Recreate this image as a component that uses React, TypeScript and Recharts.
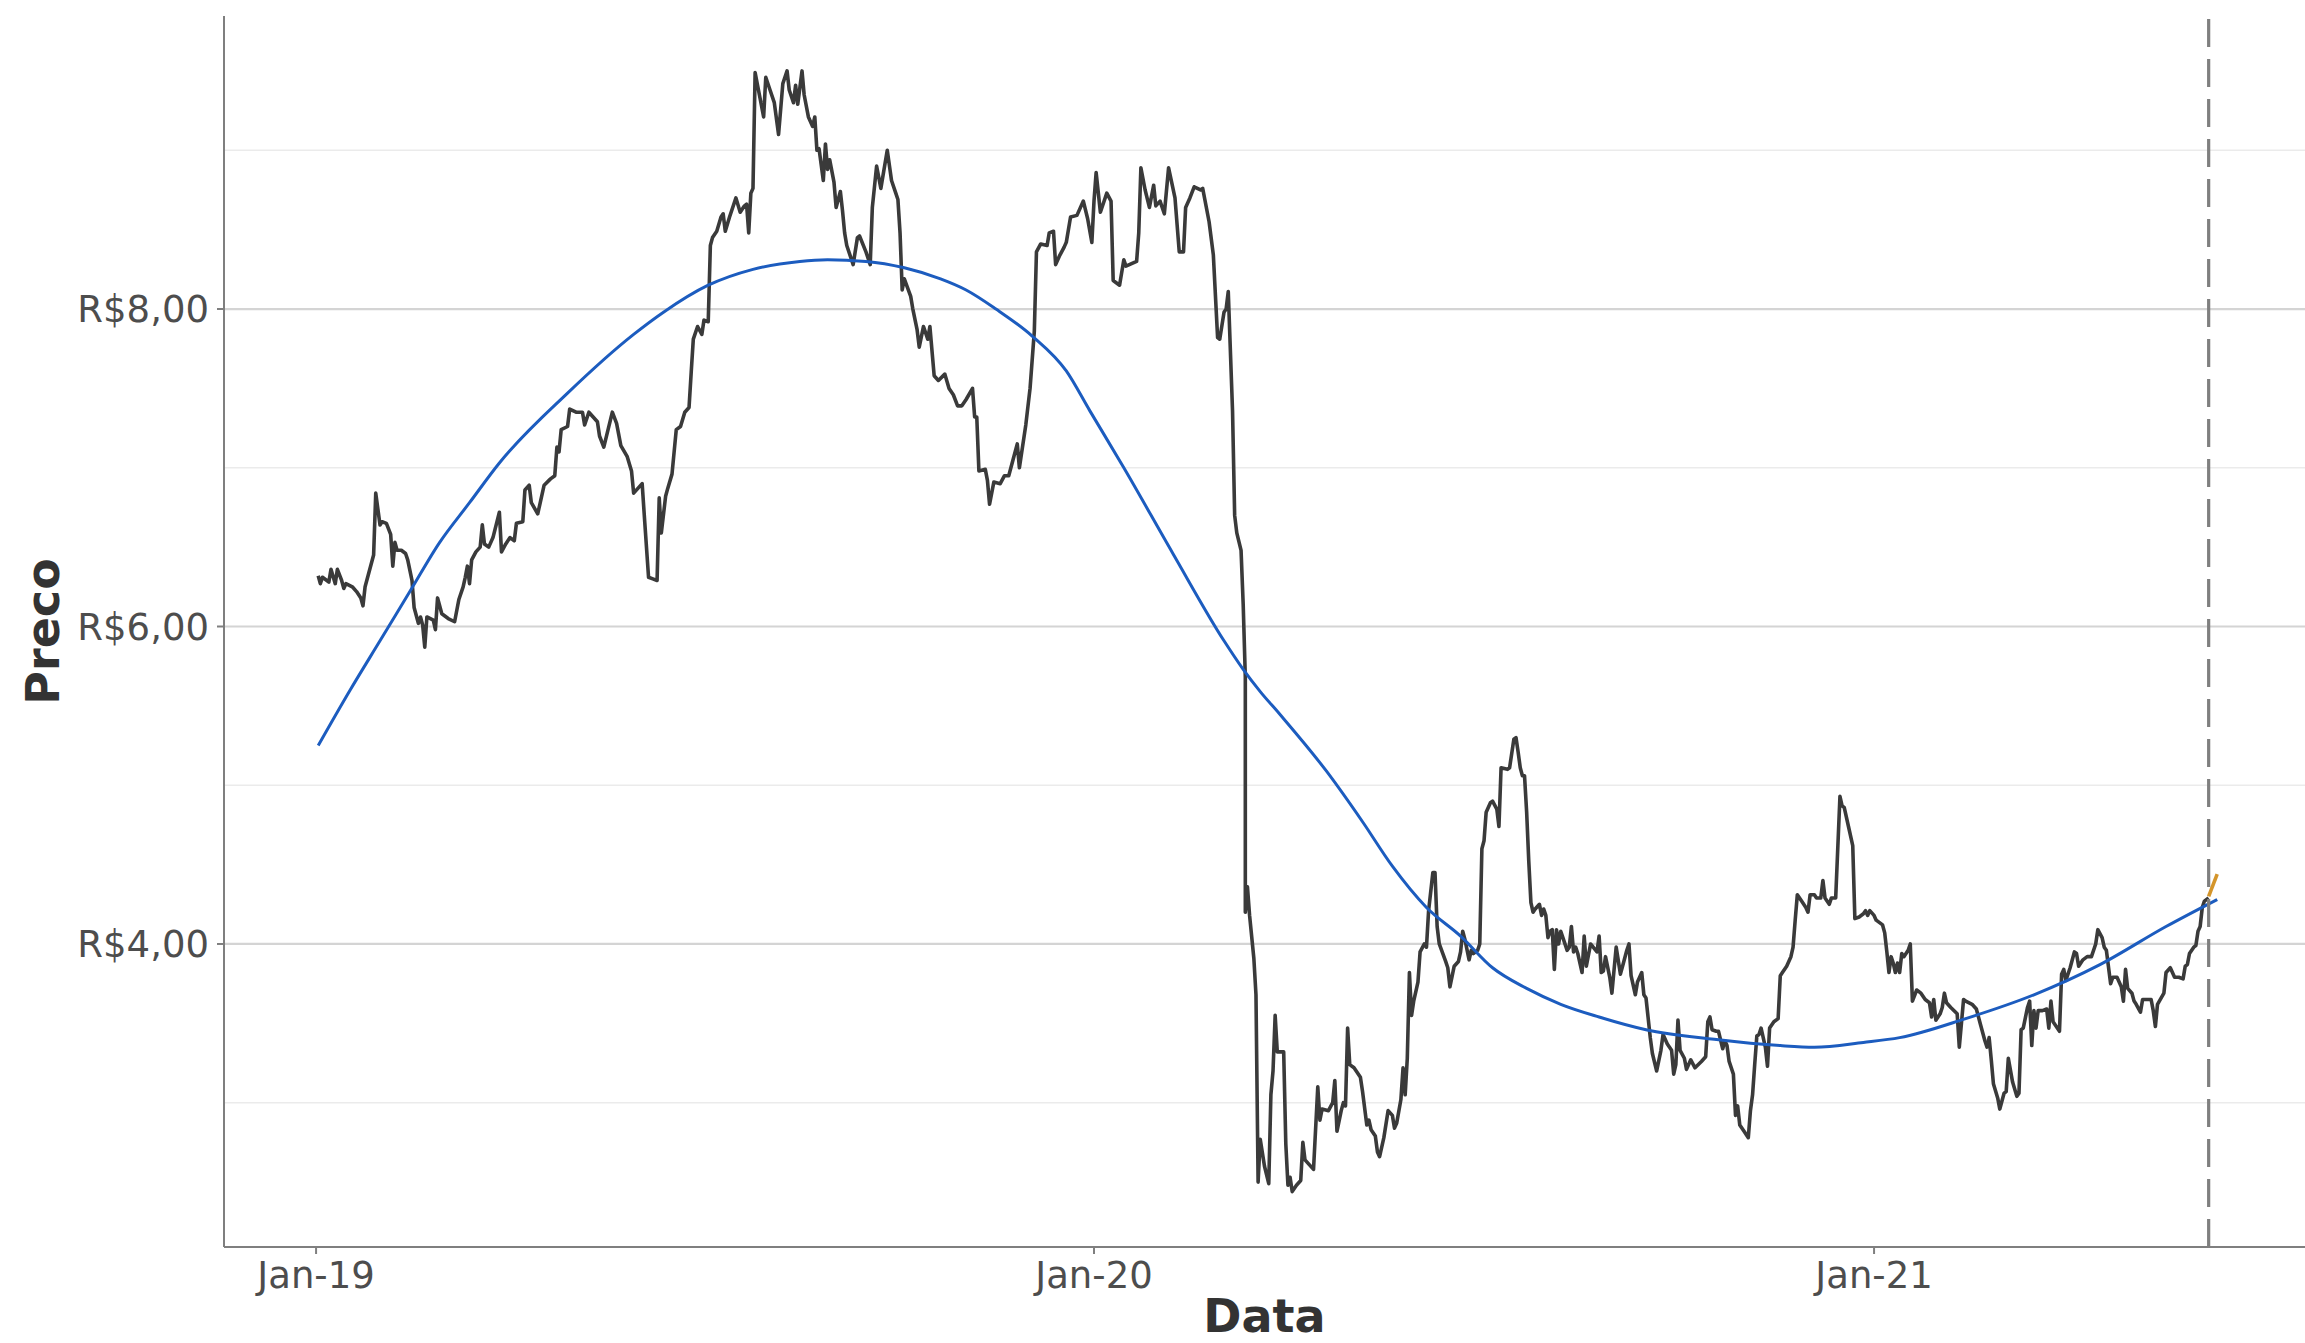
import React from 'react';
import { LineChart, Line, XAxis, YAxis, ReferenceLine, CartesianGrid, Label } from 'recharts';

// Days counted from 2019-01-01 (day 0 = Jan 1, 2019)
const priceDays = [
  1, 2, 3, 6, 7, 9, 10, 12, 13, 14, 17, 19, 21, 22, 23, 27, 28, 30, 31, 33, 35, 36, 37, 38, 40, 42, 43, 45, 46, 48,
  49, 50, 51, 52, 55, 56, 57, 59, 62, 65, 67, 69, 70, 71, 72, 73, 75, 77, 78, 79, 81, 83, 86, 87, 89, 91, 93, 94, 97, 98,
  100, 101, 104, 105, 107, 110, 112, 113, 114, 115, 118, 119, 122, 125, 126, 128, 130, 132, 133, 135, 137, 139, 141, 143, 146, 148, 149, 151, 153, 154,
  156, 158, 160, 161, 162, 164, 165, 167, 169, 171, 173, 175, 176, 177, 179, 181, 182, 184, 185, 186, 188, 190, 191, 192, 194, 197, 199, 201, 202, 203,
  204, 205, 206, 208, 210, 211, 213, 215, 217, 219, 221, 222, 224, 225, 226, 228, 229, 231, 233, 234, 235, 236, 238, 239, 240, 241, 243, 244, 246, 247,
  248, 249, 252, 254, 255, 258, 260, 261, 263, 265, 268, 270, 272, 273, 274, 275, 276, 279, 280, 282, 283, 285, 287, 288, 290, 292, 295, 297, 299, 301,
  303, 305, 308, 309, 310, 311, 314, 315, 316, 318, 321, 323, 325, 329, 330, 333, 335, 337, 338, 340, 343, 344, 346, 347, 349, 351, 352, 354, 357, 360,
  362, 364, 365, 366, 368, 371, 373, 374, 377, 379, 380, 385, 386, 387, 389, 391, 393, 394, 396, 398, 400, 403, 405, 407, 408, 410, 412, 415, 416, 419,
  421, 423, 424, 426, 427, 428, 430, 431, 432, 434, 435, 436, 436, 437, 438, 440, 441, 442, 443, 445, 447, 448, 449, 450, 451, 454, 455, 456, 457, 458,
  460, 462, 463, 464, 466, 468, 470, 471, 472, 475, 477, 478, 479, 481, 482, 483, 484, 485, 487, 490, 491, 493, 494, 495, 497, 498, 499, 501, 503, 505,
  506, 507, 509, 510, 511, 512, 513, 514, 515, 517, 518, 520, 521, 522, 524, 525, 526, 527, 530, 531, 532, 534, 536, 537, 538, 539, 541, 542, 543, 545,
  546, 547, 548, 549, 551, 552, 554, 555, 556, 559, 560, 562, 563, 564, 565, 566, 567, 568, 569, 570, 571, 572, 574, 575, 576, 577, 578, 579, 580, 581,
  582, 583, 584, 585, 587, 588, 589, 590, 591, 592, 594, 595, 596, 598, 601, 602, 603, 604, 605, 607, 608, 610, 612, 613, 615, 616, 617, 619, 620, 622,
  623, 624, 626, 627, 629, 631, 632, 634, 636, 637, 638, 639, 640, 642, 643, 645, 647, 650, 652, 653, 654, 655, 657, 658, 660, 661, 662, 663, 665, 666,
  667, 668, 670, 672, 673, 674, 675, 676, 677, 678, 680, 681, 682, 684, 686, 687, 688, 690, 692, 693, 694, 695, 697, 699, 700, 701, 703, 704, 706, 707,
  708, 710, 711, 713, 715, 716, 717, 719, 721, 722, 724, 726, 727, 728, 729, 731, 732, 735, 736, 737, 738, 739, 740, 741, 742, 743, 744, 745, 747, 748,
  749, 751, 753, 755, 757, 758, 759, 760, 762, 763, 764, 765, 767, 770, 771, 773, 774, 777, 779, 781, 783, 784, 785, 786, 787, 789, 790, 792, 793, 794,
  796, 798, 799, 800, 801, 803, 804, 805, 806, 807, 808, 810, 812, 813, 814, 815, 818, 819, 820, 821, 823, 825, 826, 827, 829, 831, 833, 835, 836, 838,
  839, 840, 842, 843, 845, 847, 848, 849, 850, 852, 853, 854, 856, 857, 859, 861, 862, 863, 864, 867, 868, 870, 872, 874, 876, 877, 878, 879, 881, 882,
  883, 884, 885, 886, 888,
];

const prices = [
  6.32, 6.27, 6.31, 6.28, 6.36, 6.27, 6.36, 6.29, 6.24, 6.27, 6.25, 6.22, 6.18, 6.13, 6.25, 6.45, 6.84, 6.64, 6.66, 6.65, 6.58, 6.38, 6.53, 6.48, 6.48, 6.46, 6.42, 6.29, 6.12, 6.02,
  6.06, 6.01, 5.87, 6.06, 6.04, 5.98, 6.18, 6.08, 6.05, 6.03, 6.17, 6.25, 6.31, 6.38, 6.27, 6.42, 6.47, 6.50, 6.64, 6.52, 6.50, 6.56, 6.72, 6.47, 6.52, 6.56, 6.54, 6.65, 6.66, 6.86,
  6.89, 6.78, 6.71, 6.77, 6.89, 6.93, 6.95, 7.13, 7.10, 7.24, 7.26, 7.37, 7.35, 7.35, 7.27, 7.35, 7.32, 7.29, 7.20, 7.13, 7.24, 7.35, 7.28, 7.14, 7.07, 6.98, 6.84, 6.87, 6.90, 6.70,
  6.31, 6.30, 6.29, 6.81, 6.59, 6.82, 6.87, 6.96, 7.24, 7.26, 7.35, 7.38, 7.60, 7.81, 7.89, 7.84, 7.93, 7.92, 8.40, 8.45, 8.49, 8.58, 8.60, 8.49, 8.58, 8.70, 8.61, 8.65, 8.66, 8.48,
  8.73, 8.76, 9.49, 9.35, 9.21, 9.46, 9.38, 9.30, 9.10, 9.42, 9.50, 9.38, 9.30, 9.41, 9.29, 9.50, 9.35, 9.21, 9.15, 9.21, 9.00, 9.01, 8.81, 9.04, 8.88, 8.94, 8.80, 8.64, 8.74, 8.62,
  8.48, 8.40, 8.28, 8.45, 8.46, 8.36, 8.28, 8.64, 8.90, 8.76, 9.00, 8.81, 8.73, 8.69, 8.48, 8.12, 8.19, 8.08, 8.00, 7.87, 7.76, 7.89, 7.81, 7.89, 7.58, 7.55, 7.59, 7.50, 7.46, 7.39,
  7.39, 7.43, 7.50, 7.32, 7.32, 6.98, 6.99, 6.92, 6.77, 6.91, 6.90, 6.95, 6.95, 7.15, 7.00, 7.27, 7.50, 7.86, 8.36, 8.41, 8.40, 8.48, 8.49, 8.28, 8.34, 8.39, 8.42, 8.58, 8.59, 8.68,
  8.57, 8.42, 8.68, 8.86, 8.61, 8.73, 8.68, 8.18, 8.15, 8.31, 8.27, 8.30, 8.48, 8.89, 8.75, 8.64, 8.78, 8.65, 8.68, 8.60, 8.89, 8.70, 8.36, 8.36, 8.64, 8.70, 8.77, 8.75, 8.76, 8.55,
  8.34, 7.82, 7.81, 7.98, 8.00, 8.11, 7.36, 6.70, 6.59, 6.48, 6.14, 5.68, 4.20, 4.36, 4.18, 3.91, 3.68, 2.50, 2.77, 2.60, 2.49, 3.05, 3.20, 3.55, 3.32, 3.32, 2.74, 2.48, 2.53, 2.44,
  2.48, 2.51, 2.75, 2.64, 2.61, 2.58, 3.10, 2.89, 2.96, 2.95, 3.00, 3.14, 2.82, 2.95, 3.00, 2.98, 3.47, 3.24, 3.22, 3.16, 3.07, 2.86, 2.89, 2.83, 2.79, 2.69, 2.66, 2.78, 2.95, 2.92,
  2.84, 2.87, 3.02, 3.22, 3.05, 3.28, 3.82, 3.55, 3.64, 3.76, 3.95, 4.00, 3.98, 4.21, 4.45, 4.45, 4.11, 4.00, 3.89, 3.85, 3.73, 3.86, 3.89, 3.95, 4.08, 4.03, 3.90, 3.96, 3.94, 3.96,
  4.00, 4.60, 4.65, 4.83, 4.89, 4.90, 4.85, 4.74, 5.11, 5.10, 5.11, 5.29, 5.30, 5.21, 5.11, 5.06, 5.06, 4.83, 4.52, 4.26, 4.20, 4.22, 4.25, 4.18, 4.22, 4.18, 4.04, 4.08, 4.09, 3.84,
  4.09, 4.00, 4.08, 4.04, 3.96, 3.98, 4.11, 3.95, 3.98, 3.94, 3.82, 4.05, 3.86, 4.00, 3.95, 4.05, 3.82, 3.83, 3.92, 3.79, 3.69, 3.98, 3.81, 3.86, 3.96, 4.00, 3.80, 3.68, 3.76, 3.82,
  3.68, 3.66, 3.41, 3.31, 3.20, 3.33, 3.43, 3.37, 3.33, 3.18, 3.24, 3.52, 3.33, 3.28, 3.21, 3.27, 3.22, 3.26, 3.29, 3.51, 3.54, 3.46, 3.45, 3.45, 3.34, 3.39, 3.36, 3.26, 3.18, 2.92,
  2.98, 2.86, 2.82, 2.78, 2.95, 3.05, 3.24, 3.42, 3.43, 3.47, 3.35, 3.23, 3.47, 3.51, 3.53, 3.80, 3.82, 3.86, 3.92, 3.98, 4.15, 4.31, 4.27, 4.23, 4.20, 4.31, 4.31, 4.29, 4.29, 4.40,
  4.29, 4.25, 4.29, 4.29, 4.93, 4.87, 4.86, 4.74, 4.62, 4.16, 4.17, 4.19, 4.21, 4.18, 4.21, 4.18, 4.15, 4.12, 4.07, 3.95, 3.82, 3.92, 3.88, 3.82, 3.88, 3.82, 3.94, 3.92, 3.96, 4.00,
  3.64, 3.71, 3.69, 3.65, 3.63, 3.54, 3.65, 3.52, 3.56, 3.60, 3.69, 3.63, 3.60, 3.56, 3.35, 3.65, 3.64, 3.62, 3.59, 3.49, 3.39, 3.35, 3.41, 3.27, 3.12, 3.03, 2.96, 3.06, 3.07, 3.28,
  3.13, 3.04, 3.06, 3.46, 3.47, 3.60, 3.64, 3.36, 3.58, 3.47, 3.58, 3.58, 3.59, 3.47, 3.64, 3.51, 3.45, 3.81, 3.84, 3.77, 3.85, 3.95, 3.94, 3.86, 3.90, 3.92, 3.92, 4.00, 4.09, 4.04,
  3.98, 3.96, 3.75, 3.79, 3.79, 3.73, 3.64, 3.84, 3.72, 3.69, 3.64, 3.62, 3.57, 3.65, 3.65, 3.65, 3.58, 3.48, 3.62, 3.69, 3.82, 3.85, 3.79, 3.79, 3.78, 3.86, 3.87, 3.94, 3.98, 3.99,
  4.08, 4.11, 4.23, 4.27, 4.29,
];

// Smoothed trend (loess-like curve)
const trendDays = [1, 16, 30, 44, 58, 72, 86, 118, 149, 163, 184, 205, 227, 240, 258, 276, 293, 305, 319, 336, 352, 363, 379, 402, 426, 435, 443, 452, 474, 491, 505, 521, 537, 552, 568, 584, 602, 624, 656, 687, 703, 726, 743, 774, 806, 837, 868, 892];
const trendValues = [5.25, 5.6, 5.91, 6.22, 6.53, 6.78, 7.03, 7.47, 7.84, 7.98, 8.15, 8.25, 8.3, 8.31, 8.3, 8.26, 8.19, 8.12, 8.0, 7.83, 7.61, 7.36, 7.0, 6.46, 5.91, 5.73, 5.59, 5.45, 5.09, 4.77, 4.49, 4.23, 4.05, 3.85, 3.72, 3.62, 3.54, 3.46, 3.4, 3.36, 3.35, 3.38, 3.41, 3.53, 3.68, 3.87, 4.11, 4.28];

// Forecast segment
const forecastDays = [888, 892];
const forecastValues = [4.3, 4.44];

const lastObservedDay = 888;

const yearTickDays = [0, 365, 731];
const yearTickLabels = ['Jan-19', 'Jan-20', 'Jan-21'];
const majorBreaks = [4, 6, 8];
const minorBreaks = [3, 5, 7, 9];

const priceData = priceDays.map((d, i) => ({ day: d, price: prices[i] }));
const trendData = trendDays.map((d, i) => ({ day: d, trend: trendValues[i] }));
const forecastData = forecastDays.map((d, i) => ({ day: d, forecast: forecastValues[i] }));

const FONT = 'DejaVu Sans';
const AXIS_GREY = '#7f7f7f';

const formatBRL = (v: number) => 'R$' + v.toFixed(2).replace('.', ',');
const formatYear = (v: number) => {
  const i = yearTickDays.indexOf(v);
  return i >= 0 ? yearTickLabels[i] : '';
};

const XTitle = (props: any) => {
  const vb = props.viewBox || {};
  return (
    <text x={vb.x + vb.width / 2} y={vb.y + 85} textAnchor="middle" fontFamily={FONT} fontWeight="bold" fontSize={46} fill="#333333">
      Data
    </text>
  );
};

const YTitle = (props: any) => {
  const vb = props.viewBox || {};
  const cx = 59;
  const cy = vb.y + vb.height / 2;
  return (
    <text x={cx} y={cy} transform={`rotate(-90, ${cx}, ${cy})`} textAnchor="middle" fontFamily={FONT} fontWeight="bold" fontSize={46} fill="#333333">
      Preco
    </text>
  );
};

export default function App() {
  return (
    <div style={{ position: 'absolute', left: 0, top: 0, width: 2305, height: 1343, background: '#ffffff' }}>
      <LineChart width={2305} height={1343} margin={{ top: 16, right: 0, bottom: 0, left: 0 }}>
        <CartesianGrid horizontal vertical={false} horizontalValues={minorBreaks} stroke="#ebebeb" strokeWidth={1.6} />
        <CartesianGrid horizontal vertical={false} horizontalValues={majorBreaks} stroke="#d4d4d4" strokeWidth={2.2} />
        <XAxis
          type="number"
          dataKey="day"
          domain={[-43.2, 933.2]}
          allowDataOverflow
          ticks={yearTickDays}
          tickFormatter={formatYear}
          height={96}
          tickSize={7}
          tickMargin={8}
          axisLine={{ stroke: AXIS_GREY, strokeWidth: 2 }}
          tickLine={{ stroke: AXIS_GREY, strokeWidth: 2 }}
          tick={{ fill: '#4d4d4d', fontSize: 37, fontFamily: FONT }}
        >
          <Label content={<XTitle />} />
        </XAxis>
        <YAxis
          type="number"
          domain={[2.091, 9.846]}
          allowDataOverflow
          ticks={majorBreaks}
          tickFormatter={formatBRL}
          width={224}
          tickSize={7}
          tickMargin={8}
          axisLine={{ stroke: AXIS_GREY, strokeWidth: 2 }}
          tickLine={{ stroke: AXIS_GREY, strokeWidth: 2 }}
          tick={{ fill: '#4d4d4d', fontSize: 37, fontFamily: FONT }}
        >
          <Label content={<YTitle />} />
        </YAxis>
        <Line data={priceData} dataKey="price" type="linear" stroke="#3a3a3a" strokeWidth={3.6} strokeLinejoin="round" dot={false} isAnimationActive={false} />
        <Line data={forecastData} dataKey="forecast" type="linear" stroke="#d4952b" strokeWidth={3.6} dot={false} isAnimationActive={false} />
        <Line data={trendData} dataKey="trend" type="monotone" stroke="#1c5cbf" strokeWidth={3} dot={false} isAnimationActive={false} />
        <ReferenceLine x={lastObservedDay} stroke={AXIS_GREY} strokeWidth={3.2} strokeDasharray="28 12" />
      </LineChart>
    </div>
  );
}
